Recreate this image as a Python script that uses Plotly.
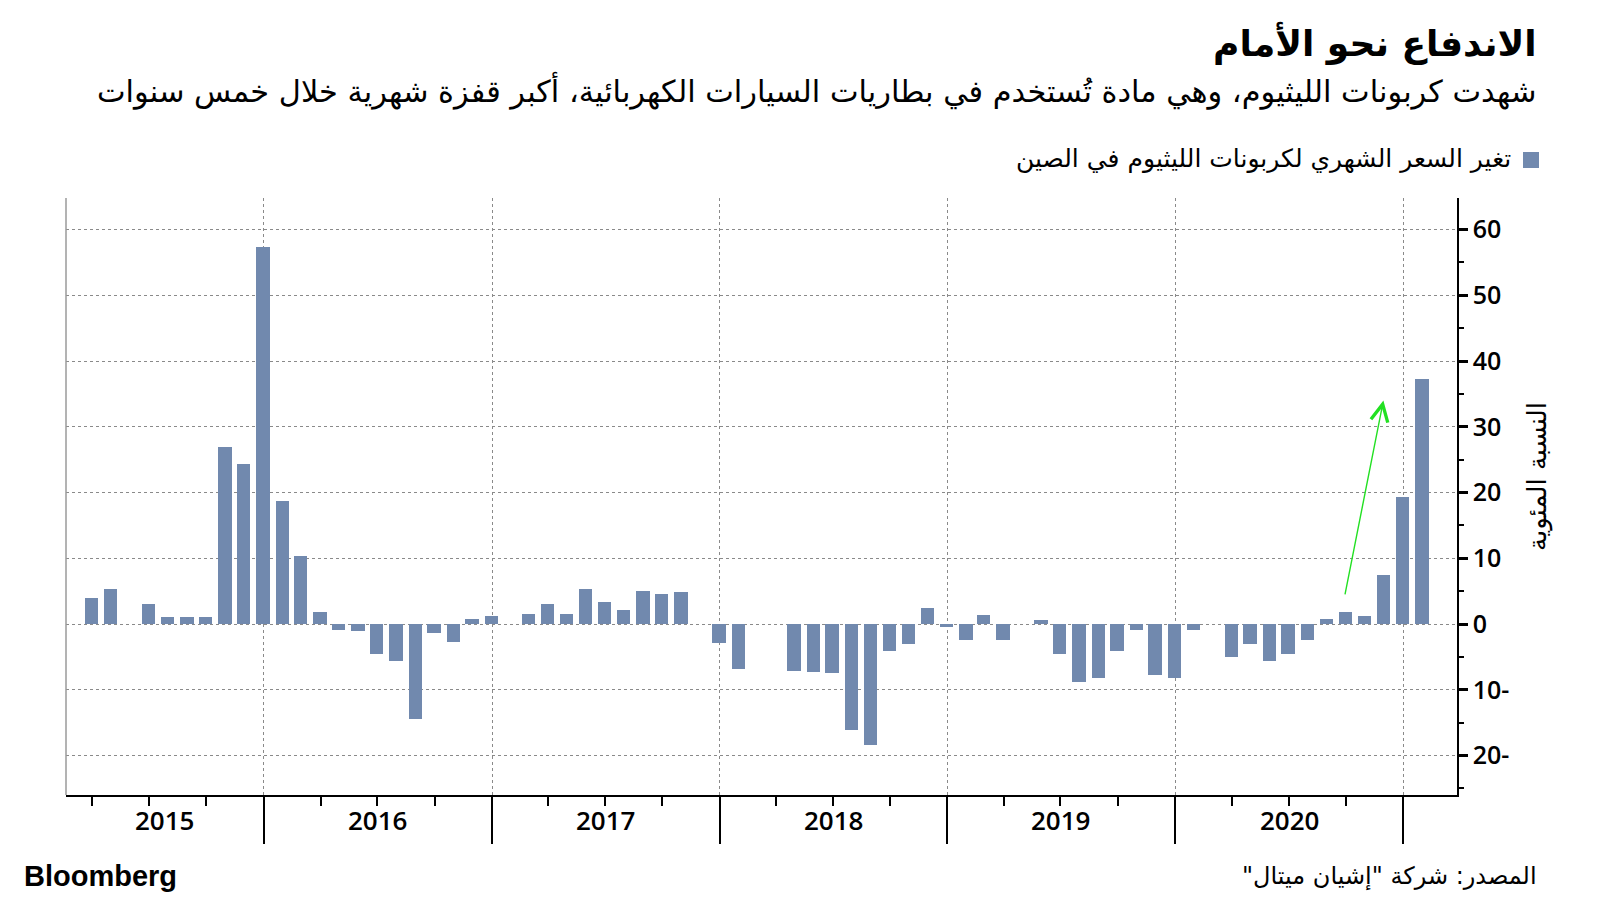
import pandas as pd
import plotly.graph_objects as go

# Monthly % change in China lithium carbonate price (month-end), Mar 2015 - Jan 2021
v2015 = [4.0, 5.3, 0.0, 3.1, 1.0, 1.0, 1.0, 27.0, 24.4, 57.4]           # Mar-Dec
v2016 = [18.7, 10.3, 1.8, -0.9, -1.0, -4.6, -5.6, -14.4, -1.4, -2.7, 0.8, 1.2]
v2017 = [0.0, 1.6, 3.1, 1.6, 5.3, 3.3, 2.1, 5.1, 4.6, 4.9, 0.0, -2.9]
v2018 = [-6.8, 0.0, 0.0, -7.1, -7.3, -7.5, -16.1, -18.4, -4.1, -3.1, 2.5, -0.5]
v2019 = [-2.4, 1.4, -2.5, 0.0, 0.6, -4.5, -8.8, -8.2, -4.1, -0.9, -7.7, -8.2]
v2020 = [-0.9, 0.0, -5.0, -3.1, -5.6, -4.6, -2.4, 0.8, 1.8, 1.2, 7.5, 19.3]
v2021 = [37.2]                                                           # Jan

values = v2015 + v2016 + v2017 + v2018 + v2019 + v2020 + v2021
dates = pd.date_range(start="2015-03-31", periods=len(values), freq="ME")

years = ["2015", "2016", "2017", "2018", "2019", "2020"]
year_label_dates = ["2015-07-26", "2016-07-02", "2017-07-02", "2018-07-02", "2019-07-02", "2020-07-02"]
year_bounds = ["2016-01-01", "2017-01-01", "2018-01-01", "2019-01-01", "2020-01-01", "2021-01-01"]

y_tickvals = [-20, -10, 0, 10, 20, 30, 40, 50, 60]
y_ticktext = ["20-", "10-", "0", "10", "20", "30", "40", "50", "60"]

RLM = "\u200f"
title = "الاندفاع نحو الأمام"
subtitle = "شهدت كربونات الليثيوم، وهي مادة تُستخدم في بطاريات السيارات الكهربائية، أكبر قفزة شهرية خلال خمس سنوات"
legend_text = "تغير السعر الشهري لكربونات الليثيوم في الصين"
y_title = "النسبة المئوية"
source = "المصدر: شركة \"إشيان ميتال\"" + RLM

BAR = "#7189AE"
AR_FONT = "DejaVu Sans"
NUM_FONT = "Open Sans"

# plot area in page pixels (page has an 8px body margin)
OFF = 8
L, R, T, B = 66, 1457, 198, 795
def px(xp):
    return (xp - L) / (R - L)
def py(yp):
    return (B - yp) / (B - T)

fig = go.Figure()
fig.add_trace(go.Bar(
    x=dates, y=values, marker=dict(color=BAR, line=dict(width=0)),
    width=21.3 * 86400000, showlegend=False, hoverinfo="x+y"))

fig.update_layout(
    width=1600, height=901,
    margin=dict(l=L - OFF, r=1600 - (R - OFF), t=T - OFF, b=901 - (B - OFF), autoexpand=False),
    paper_bgcolor="white", plot_bgcolor="white",
    bargap=0,
    font=dict(family=NUM_FONT, color="black"),
)

fig.update_xaxes(
    type="date", range=["2015-02-18", "2021-03-28"],
    tickmode="array", tickvals=year_bounds, ticktext=[""] * len(year_bounds),
    ticks="outside", ticklen=47, tickwidth=1.5, tickcolor="black",
    showline=True, linecolor="black", linewidth=1.5,
    showgrid=True, gridcolor="#8a8a8a", griddash="dot", gridwidth=1,
    minor=dict(tick0="2015-01-01", dtick="M3", ticks="outside", ticklen=9,
               tickwidth=1.5, tickcolor="black", showgrid=False),
    zeroline=False,
)

fig.update_yaxes(
    side="right", range=[-26, 64.8],
    tickmode="array", tickvals=y_tickvals, ticktext=y_ticktext,
    ticks="outside", ticklen=9, tickwidth=2.5, tickcolor="black",
    tickfont=dict(family=NUM_FONT, size=25, color="black", weight=600),
    showline=True, linecolor="black", linewidth=1.5,
    showgrid=True, gridcolor="#8a8a8a", griddash="dot", gridwidth=1,
    minor=dict(dtick=5, tick0=0, ticks="outside", ticklen=5, tickwidth=1.5,
               tickcolor="black", showgrid=False),
    zeroline=False,
)

# y-axis title
fig.add_annotation(x=px(1537), y=py(477), xref="paper", yref="paper", text=y_title,
                   showarrow=False, textangle=-90, xanchor="center", yanchor="middle",
                   font=dict(family=AR_FONT, size=26, color="black"))

# left frame line
fig.add_shape(type="line", xref="paper", yref="paper", x0=0, x1=0, y0=0, y1=1,
              line=dict(color="#9a9a9a", width=1.5))

# year labels
for yr, d in zip(years, year_label_dates):
    fig.add_annotation(x=d, y=py(820), xref="x", yref="paper", text=yr,
                       showarrow=False, font=dict(family=NUM_FONT, size=26, color="black", weight=600),
                       xanchor="center", yanchor="middle")

# green arrow
fig.add_annotation(x="2020-11-30", y=34.0, ax="2020-09-29", ay=4.3, xref="x", yref="y",
                   axref="x", ayref="y", showarrow=True, arrowhead=5, arrowsize=2.4,
                   arrowwidth=1.4, arrowcolor="#22e022", text="")

# titles
fig.add_annotation(x=px(1539), y=py(43), xref="paper", yref="paper", text="<b>" + title + "</b>",
                   showarrow=False, xanchor="right", yanchor="middle",
                   font=dict(family=AR_FONT, size=36, color="black"))
fig.add_annotation(x=px(1539), y=py(90), xref="paper", yref="paper", text=subtitle,
                   showarrow=False, xanchor="right", yanchor="middle",
                   font=dict(family=AR_FONT, size=30.4, color="black"))
# legend
fig.add_shape(type="rect", xref="paper", yref="paper", x0=px(1523), x1=px(1539),
              y0=py(168), y1=py(152), fillcolor=BAR, line=dict(width=0))
fig.add_annotation(x=px(1513), y=py(159), xref="paper", yref="paper", text=legend_text,
                   showarrow=False, xanchor="right", yanchor="middle",
                   font=dict(family=AR_FONT, size=25, color="black"))
# source & logo
fig.add_annotation(x=px(1539), y=py(876), xref="paper", yref="paper", text=source,
                   showarrow=False, xanchor="right", yanchor="middle",
                   font=dict(family=AR_FONT, size=24, color="black"))
fig.add_annotation(x=px(22), y=py(876), xref="paper", yref="paper", text="<b>Bloomberg</b>",
                   showarrow=False, xanchor="left", yanchor="middle",
                   font=dict(family="Liberation Sans", size=29, color="black"))

fig.write_html("out.html")
